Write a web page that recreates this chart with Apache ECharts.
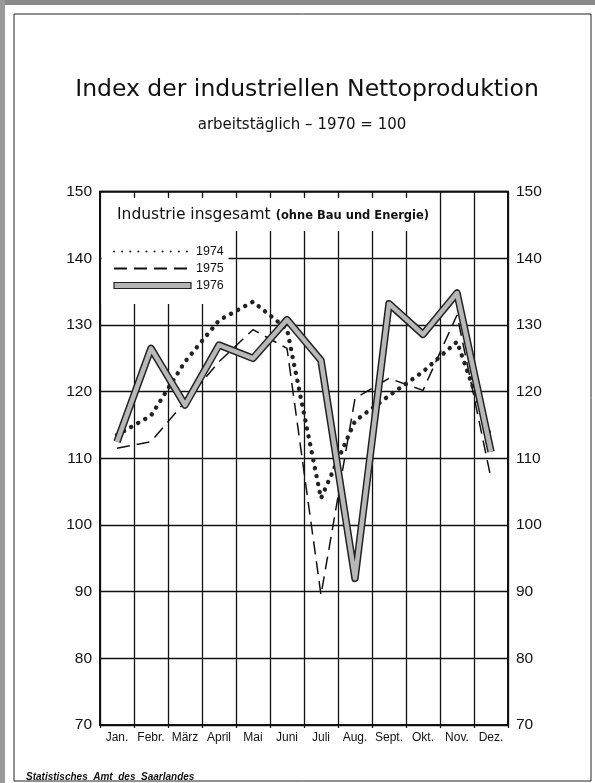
<!DOCTYPE html>
<html>
<head>
<meta charset="utf-8">
<script src="https://cdn.jsdelivr.net/npm/echarts@6/dist/echarts.min.js"></script>
<style>
html,body{margin:0;padding:0;background:#fff;}
#chart{width:595px;height:783px;}
</style>
</head>
<body>
<div id="chart"></div>
<script>
// ---- data ----
var months = ['Jan.', 'Febr.', 'März', 'April', 'Mai', 'Juni', 'Juli', 'Aug.', 'Sept.', 'Okt.', 'Nov.', 'Dez.'];
var values1974 = [113.5, 116.4, 124.5, 130.7, 133.5, 129.4, 104, 115.6, 119.4, 123, 127.5, 113];
var values1975 = [111.5, 112.5, 118.5, 124.5, 129.3, 126.5, 89.5, 119, 122, 120.2, 131.5, 107];
var values1976 = [112.5, 126.5, 118, 127, 125, 130.8, 124.7, 92, 133.2, 128.6, 134.8, 111];
var seriesNames = ['1974', '1975', '1976'];
var yMin = 70, yMax = 150, yStep = 10;

var FONT = "'Liberation Sans Narrow', 'Liberation Sans', sans-serif";
var FONT2 = "'DejaVu Sans', sans-serif";

var chart = echarts.init(document.getElementById('chart'), null, {renderer: 'canvas'});

var gridLeft = 100, gridTop = 191.7, gridRight = 87, gridBottom = 58;
var hidden = {color: 'rgba(0,0,0,0)', borderWidth: 0, opacity: 0};

var option = {
  backgroundColor: '#ffffff',
  animation: false,
  title: [
    {
      text: 'Index der industriellen Nettoproduktion',
      left: 302, top: 73, textAlign: 'center',
      textStyle: {fontFamily: FONT2, fontSize: 23.5, fontWeight: 'normal', color: '#111'}
    },
    {
      text: 'arbeitstäglich – 1970 = 100',
      left: 297, top: 113, textAlign: 'center',
      textStyle: {fontFamily: FONT2, fontSize: 15, fontWeight: 'normal', color: '#111'}
    },
    {
      text: '{a|Industrie insgesamt} {b|(ohne Bau und Energie)}',
      left: 112, top: 201, z: 10,
      textStyle: {
        fontWeight: 'normal',
        rich: {
          a: {fontFamily: FONT2, fontSize: 15.5, fontWeight: 'normal', color: '#111'},
          b: {fontFamily: FONT2, fontSize: 11.5, fontWeight: 'bold', color: '#111', padding: [2, 0, 0, 0]}
        }
      }
    },
    {
      text: 'Statistisches  Amt  des  Saarlandes',
      left: 21, top: 767,
      textStyle: {fontFamily: "'Liberation Sans', sans-serif", fontSize: 10, fontWeight: 'bold', fontStyle: 'italic', color: '#111'}
    }
  ],
  legend: {
    orient: 'vertical',
    left: 108, top: 239,
    itemWidth: 77, itemHeight: 6, itemGap: 2,
    textStyle: {fontFamily: FONT, fontSize: 12.5, color: '#111', lineHeight: 11, padding: [0, 0, 4, 0]},
    data: [
      {name: seriesNames[0], itemStyle: hidden},
      {name: seriesNames[1], itemStyle: hidden},
      {name: seriesNames[2], icon: 'rect', itemStyle: {color: '#b4b4b4', borderColor: '#222', borderWidth: 1.2}}
    ],
    z: 10
  },
  grid: {
    left: gridLeft, top: gridTop, right: gridRight, bottom: gridBottom,
    show: true, borderColor: '#111', borderWidth: 2, backgroundColor: 'transparent'
  },
  xAxis: {
    type: 'category',
    data: months,
    boundaryGap: true,
    axisLine: {show: true, lineStyle: {color: '#111', width: 2}},
    axisTick: {show: true, length: 3, lineStyle: {color: '#111', width: 1.2}},
    splitLine: {show: true, lineStyle: {color: '#111', width: 1.3}},
    axisLabel: {fontFamily: FONT, fontSize: 12, color: '#111', margin: 7, interval: 0}
  },
  yAxis: [
    {
      type: 'value', min: yMin, max: yMax, interval: yStep,
      axisLine: {show: false}, axisTick: {show: false},
      splitLine: {show: true, lineStyle: {color: '#111', width: 1.3}},
      axisLabel: {fontFamily: FONT, fontSize: 15.5, color: '#111', margin: 8}
    },
    {
      type: 'value', min: yMin, max: yMax, interval: yStep, position: 'right',
      axisLine: {show: false}, axisTick: {show: false},
      splitLine: {show: false},
      axisLabel: {fontFamily: FONT, fontSize: 15.5, color: '#111', margin: 8}
    }
  ],
  series: [
    {
      name: seriesNames[1], type: 'line', data: values1975, showSymbol: false, symbol: 'none', z: 3,
      itemStyle: {color: '#111'},
      lineStyle: {color: '#111', width: 1.5, type: [13, 7]}
    },
    {
      name: seriesNames[0], type: 'line', data: values1974, showSymbol: false, symbol: 'none', z: 4,
      itemStyle: {color: '#222'},
      lineStyle: {color: '#222', width: 4.4, type: [0.1, 8], cap: 'round'}
    },
    {
      name: seriesNames[2], type: 'line', data: values1976, showSymbol: false, symbol: 'none', z: 5,
      itemStyle: {color: '#222'},
      lineStyle: {color: '#222', width: 7.5, join: 'round'}
    },
    {
      name: seriesNames[2] + ' ', type: 'line', data: values1976, showSymbol: false, symbol: 'none', z: 6,
      itemStyle: {color: '#b8b8b8'},
      lineStyle: {color: '#b8b8b8', width: 4.5, join: 'round'}
    }
  ],
  graphic: [
    // white area behind the inner heading and legend (covers grid lines)
    {type: 'rect', z: 1, silent: true, shape: {x: 101.5, y: 198, width: 331, height: 33}, style: {fill: '#fff'}},
    {type: 'rect', z: 1, silent: true, shape: {x: 101.5, y: 231, width: 127, height: 73}, style: {fill: '#fff'}},
    // page frame
    {type: 'rect', z: 0, silent: true, shape: {x: 14, y: 14, width: 577, height: 767}, style: {fill: 'none', stroke: '#222', lineWidth: 1}},
    {type: 'rect', z: 0, silent: true, shape: {x: 0, y: 0, width: 595, height: 5}, style: {fill: '#8a8a8a'}},
    {type: 'rect', z: 0, silent: true, shape: {x: 0, y: 0, width: 5, height: 783}, style: {fill: '#9a9a9a'}}
  ]
};
chart.setOption(option);
</script>
</body>
</html>
